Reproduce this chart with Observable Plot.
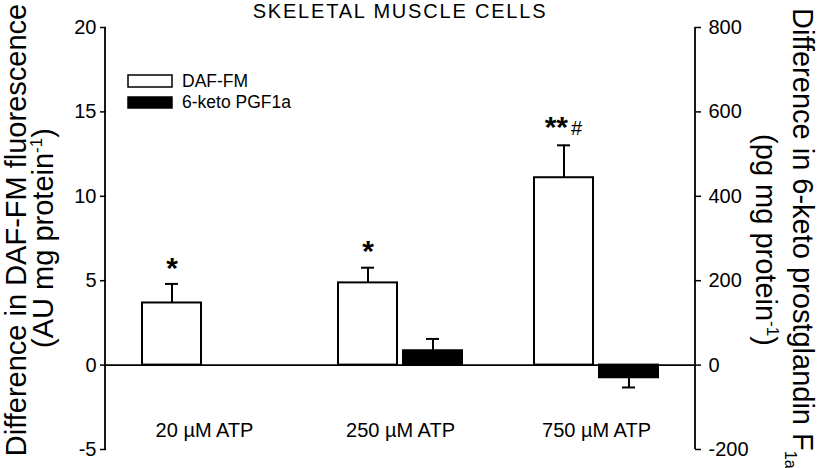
<!DOCTYPE html>
<html><head><meta charset="utf-8">
<script src="https://cdn.jsdelivr.net/npm/d3@7"></script>
<script src="https://cdn.jsdelivr.net/npm/@observablehq/plot@0.6"></script>
<style>
body{margin:0;background:#fff;}
#chart{width:819px;height:468px;position:relative;}
#chart svg{overflow:visible}
</style></head><body><div id="chart"></div>
<script>
// ---- data ----
const conditions = ["20 µM ATP", "250 µM ATP", "750 µM ATP"];
const series = ["DAF-FM", "6-keto PGF1a"];
const dafMean = [3.68, 4.87, 11.1];      // AU mg protein^-1 (left axis)
const dafSem  = [1.13, 0.90, 1.92];
const ketoMean = [null, 34, -30];        // pg mg protein^-1 (right axis)
const ketoSem  = [null, 28, 23];
const dafSig  = ["*", "*", "**"];
const dafHash = ["", "", "#"];
const leftTicks  = [-5, 0, 5, 10, 15, 20];
const rightTicks = [-200, 0, 200, 400, 600, 800];
const ratio = 40; // right axis units per left axis unit

// ---- table for the library ----
const rows = [];
conditions.forEach((c, i) => {
  rows.push({cond: c, series: series[0], mean: dafMean[i], end: dafMean[i] + dafSem[i], sig: dafSig[i], hash: dafHash[i]});
  if (ketoMean[i] != null) {
    const s = Math.sign(ketoMean[i]) || 1;
    rows.push({cond: c, series: series[1], mean: ketoMean[i] / ratio, end: (ketoMean[i] + s * ketoSem[i]) / ratio, sig: "", hash: ""});
  }
});
const starRows = rows.filter(d => d.sig && !d.hash);
const starHashRows = rows.filter(d => d.sig && d.hash);

const FONT = "'Liberation Sans', Arial, Helvetica, sans-serif";

const plot = Plot.plot({
  width: 819, height: 468,
  marginLeft: 105, marginRight: 124, marginTop: 27, marginBottom: 19,
  style: {fontFamily: FONT, background: "white", color: "black", overflow: "visible"},
  fx: {domain: conditions, padding: 0, label: null},
  x: {domain: series, paddingInner: 0.1, paddingOuter: 0.5375, axis: null},
  y: {domain: [-5, 20], axis: null},
  color: {domain: series, range: ["white", "black"]},
  marks: [
    Plot.ruleY([0], {strokeWidth: 1.8}),
    Plot.barY(rows, {fx: "cond", x: "series", y: "mean", fill: "series", stroke: "black", strokeWidth: 2}),
    Plot.ruleX(rows, {fx: "cond", x: "series", y1: "mean", y2: "end", strokeWidth: 2}),
    Plot.tickY(rows, {fx: "cond", x: "series", y: "end", strokeWidth: 2, inset: 23}),
    Plot.text(starRows, {fx: "cond", x: "series", y: "end", text: "sig", fontSize: 30, fontWeight: "bold", dy: -16}),
    Plot.text(starHashRows, {fx: "cond", x: "series", y: "end", text: "sig", fontSize: 30, fontWeight: "bold", textAnchor: "end", dx: 4, dy: -18}),
    Plot.text(starHashRows, {fx: "cond", x: "series", y: "end", text: "hash", fontSize: 20, textAnchor: "start", dx: 7, dy: -17}),
    Plot.axisY({anchor: "left", ticks: leftTicks, tickFormat: d => String(d), tickSize: 6, tickPadding: 4, fontSize: 20, strokeWidth: 1.5, label: null}),
    Plot.axisY({anchor: "right", ticks: rightTicks.map(v => v / ratio), tickFormat: d => String(Math.round(d * ratio)), tickSize: 6, tickPadding: 8, fontSize: 20, strokeWidth: 1.5, label: null}),
    Plot.axisFx({anchor: "bottom", tickSize: 0, fontSize: 20, dy: -36, label: null})
  ]
});

document.getElementById("chart").appendChild(plot);

// ---- decorations: axis lines, title, legend, axis titles ----
const svg = d3.select(plot);
const y = plot.scale("y");
const xL = 105, xR = 819 - 124;
const yTop = y.apply(20), yBot = y.apply(-5);
svg.append("line").attr("x1", xL).attr("x2", xL).attr("y1", yTop).attr("y2", yBot).attr("stroke", "black").attr("stroke-width", 1.8);
svg.append("line").attr("x1", xR).attr("x2", xR).attr("y1", yTop).attr("y2", yBot).attr("stroke", "black").attr("stroke-width", 1.8);

svg.append("text").attr("x", (xL + xR) / 2).attr("y", 18).attr("text-anchor", "middle")
  .attr("font-family", FONT).attr("font-size", 20).attr("letter-spacing", 1.8).attr("fill", "black")
  .text("SKELETAL MUSCLE CELLS");

const legend = svg.append("g").attr("font-family", FONT).attr("font-size", 17.5).attr("fill", "black").attr("text-anchor", "start");
legend.append("rect").attr("x", 128).attr("y", 75).attr("width", 44).attr("height", 12).attr("fill", "white").attr("stroke", "black").attr("stroke-width", 1.5);
legend.append("rect").attr("x", 128).attr("y", 97).attr("width", 44).attr("height", 11).attr("fill", "black").attr("stroke", "black").attr("stroke-width", 1.5);
legend.append("text").attr("x", 182).attr("y", 87).attr("text-anchor", "start").text(series[0]);
legend.append("text").attr("x", 182).attr("y", 108).attr("text-anchor", "start").text(series[1]);

function rotText(x, yy, angle, anchor) {
  return svg.append("text").attr("transform", `translate(${x},${yy}) rotate(${angle})`)
    .attr("text-anchor", anchor).attr("font-family", FONT).attr("font-size", 29).attr("fill", "black");
}
rotText(26, 230, -90, "middle").text("Difference in DAF-FM fluorescence");
const l2 = rotText(53, 238, -90, "middle");
l2.append("tspan").text("(AU mg protein");
l2.append("tspan").attr("font-size", 17).attr("dy", -11).text("-1");
l2.append("tspan").attr("dy", 11).text(")");

const r1 = rotText(793, 8, 90, "start");
r1.append("tspan").text("Difference in 6-keto prostglandin F");
r1.append("tspan").attr("font-size", 16).attr("dy", 8).text("1a");
const r2 = rotText(756, 240, 90, "middle");
r2.append("tspan").text("(pg mg protein");
r2.append("tspan").attr("font-size", 17).attr("dy", -11).text("-1");
r2.append("tspan").attr("dy", 11).text(")");
</script>
</body></html>
